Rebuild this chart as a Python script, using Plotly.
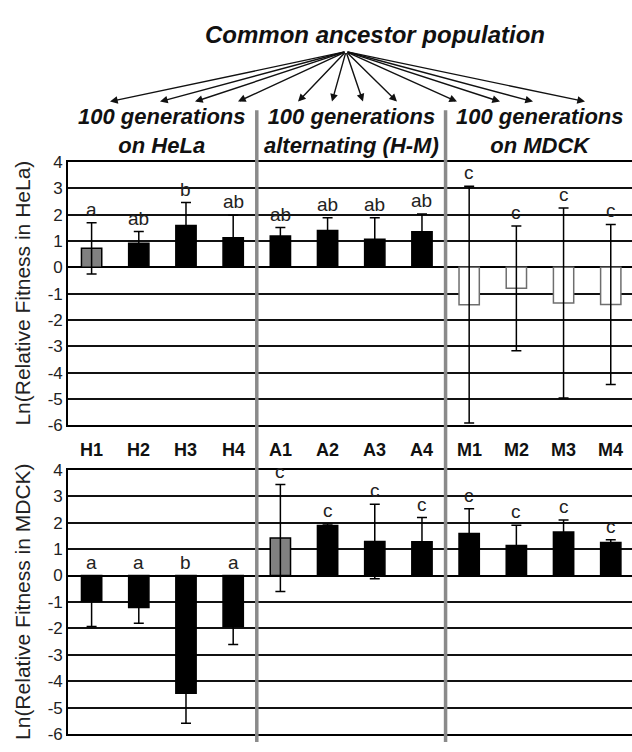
import plotly.graph_objects as go

# ---------------- data ----------------
categories = ["H1", "H2", "H3", "H4", "A1", "A2", "A3", "A4", "M1", "M2", "M3", "M4"]

hela_values = [0.72, 0.91, 1.59, 1.12, 1.19, 1.40, 1.07, 1.35, -1.42, -0.80, -1.36, -1.41]
hela_errors = [0.97, 0.45, 0.87, 0.86, 0.32, 0.48, 0.81, 0.68, 4.50, 2.37, 3.61, 3.04]
hela_letters = ["a", "ab", "b", "ab", "ab", "ab", "ab", "ab", "c", "c", "c", "c"]

mdck_values = [-0.97, -1.21, -4.45, -1.93, 1.42, 1.89, 1.29, 1.28, 1.59, 1.14, 1.65, 1.25]
mdck_errors = [0.96, 0.59, 1.14, 0.68, 2.02, 0.06, 1.41, 0.91, 0.94, 0.76, 0.45, 0.10]
mdck_letters = ["a", "a", "b", "a", "c", "c", "c", "c", "c", "c", "c", "c"]

y_ticks = [4, 3, 2, 1, 0, -1, -2, -3, -4, -5, -6]
y_tick_labels = ["4", "3", "2", "1", "0", "-1", "-2", "-3", "-4", "-5", "-6"]

group_titles = ["100 generations<br>on HeLa",
                "100 generations<br>alternating (H-M)",
                "100 generations<br>on MDCK"]
main_title = "Common ancestor population"
y_title_top = "Ln(Relative Fitness in HeLa)"
y_title_bottom = "Ln(Relative Fitness in MDCK)"

# ---------------- styles ----------------
W, H = 632, 752
L = 68
PW = W - L
FONT = "Liberation Sans, Arial, Helvetica, sans-serif"
GRAY_SEP = "#8a8a8a"

def X(px):
    return (px - L) / PW

def Y(py):
    return 1 - py / H

top_fill = ["#808080"] + ["#000000"] * 7 + ["#ffffff"] * 4
top_line = ["#000000"] * 8 + ["#6e6e6e"] * 4
bot_fill = ["#000000"] * 4 + ["#808080"] + ["#000000"] * 7
bot_line = ["#000000"] * 12

fig = go.Figure()

fig.add_trace(go.Bar(
    x=categories, y=hela_values, xaxis="x", yaxis="y",
    marker=dict(color=top_fill, line=dict(color=top_line, width=1.5)),
    error_y=dict(type="data", array=hela_errors, visible=True,
                 color="#000000", thickness=1.5, width=5),
    showlegend=False, hoverinfo="skip",
))
fig.add_trace(go.Bar(
    x=categories, y=mdck_values, xaxis="x2", yaxis="y2",
    marker=dict(color=bot_fill, line=dict(color=bot_line, width=1.5)),
    error_y=dict(type="data", array=mdck_errors, visible=True,
                 color="#000000", thickness=1.5, width=5),
    showlegend=False, hoverinfo="skip",
))

xaxis_common = dict(
    type="category", categoryorder="array", categoryarray=categories,
    range=[-0.5, 11.45], showticklabels=False, ticks="",
    showgrid=False, showline=True, mirror=True, linecolor="#000000",
    linewidth=1.5, zeroline=False, fixedrange=True,
)
yaxis_common = dict(
    range=[-6, 4], tickmode="array", tickvals=y_ticks, ticktext=y_tick_labels,
    showgrid=True, gridcolor="#111111", gridwidth=1.6,
    zeroline=True, zerolinecolor="#000000", zerolinewidth=1.6,
    showline=True, linecolor="#000000", linewidth=1.6,
    ticks="", tickfont=dict(family=FONT, size=17, color="#222222"),
    fixedrange=True,
)

fig.update_layout(
    width=W, height=H,
    margin=dict(l=L, r=0, t=0, b=0),
    paper_bgcolor="#ffffff", plot_bgcolor="#ffffff",
    bargap=0.57,
    xaxis=dict(**xaxis_common, domain=[0, 1], anchor="y"),
    yaxis=dict(**yaxis_common, domain=[Y(427), Y(157)], anchor="x"),
    xaxis2=dict(**xaxis_common, domain=[0, 1], anchor="y2"),
    yaxis2=dict(**yaxis_common, domain=[Y(744), Y(472.7)], anchor="x2"),
    font=dict(family=FONT, color="#111111"),
)

ann = []

# significance letters
for i, c in enumerate(categories):
    ann.append(dict(x=c, y=max(hela_values[i] + hela_errors[i], 0), xref="x", yref="y",
                    text=hela_letters[i], showarrow=False, xanchor="center",
                    yanchor="bottom", yshift=1,
                    font=dict(family=FONT, size=19, color="#222222")))
    ann.append(dict(x=c, y=max(mdck_values[i] + mdck_errors[i], 0), xref="x2", yref="y2",
                    text=mdck_letters[i], showarrow=False, xanchor="center",
                    yanchor="bottom", yshift=1,
                    font=dict(family=FONT, size=19, color="#222222")))
    # category labels between panels
    ann.append(dict(x=c, y=Y(452.7), xref="x", yref="paper", text="<b>" + c + "</b>",
                    showarrow=False, xanchor="center", yanchor="middle",
                    font=dict(family=FONT, size=18, color="#111111")))

# y axis titles
ann.append(dict(x=X(23), y=(Y(427) + Y(157)) / 2, xref="paper", yref="paper",
                text=y_title_top, textangle=-90, showarrow=False,
                xanchor="center", yanchor="middle",
                font=dict(family=FONT, size=21, color="#222222")))
ann.append(dict(x=X(23), y=(Y(744) + Y(472.7)) / 2, xref="paper", yref="paper",
                text=y_title_bottom, textangle=-90, showarrow=False,
                xanchor="center", yanchor="middle",
                font=dict(family=FONT, size=21, color="#222222")))

# header
ann.append(dict(x=X(375), y=Y(26), xref="paper", yref="paper",
                text="<b><i>" + main_title + "</i></b>", showarrow=False,
                xanchor="center", yanchor="middle",
                font=dict(family=FONT, size=24, color="#111111")))
for gi, t in enumerate(group_titles):
    ann.append(dict(x=1.5 + 4 * gi, y=Y(125), xref="x", yref="paper",
                    text="<b><i>" + t + "</i></b>", showarrow=False,
                    xanchor="center", yanchor="middle",
                    font=dict(family=FONT, size=22, color="#111111")))

# arrows from common ancestor
origin = (346, 45)
arrow_ends = [110, 160, 195, 238, 298, 332, 363, 397, 457, 500, 533, 585]
for ex in arrow_ends:
    ann.append(dict(x=X(ex), y=Y(95), xref="paper", yref="paper",
                    ax=origin[0] - ex, ay=origin[1] - 95, axref="pixel", ayref="pixel",
                    text="", showarrow=True, arrowhead=2, arrowsize=1.1,
                    arrowwidth=1.4, arrowcolor="#111111"))

fig.update_layout(annotations=ann)

# group separators
shapes = []
for sx in [3.5, 7.5]:
    shapes.append(dict(type="line", xref="x", yref="paper", x0=sx, x1=sx,
                       y0=0, y1=Y(104), line=dict(color=GRAY_SEP, width=3.5),
                       layer="above"))
fig.update_layout(shapes=shapes)

fig.write_html("out.html",
               config={"displayModeBar": False},
               post_script="document.body.style.margin='0';document.body.style.overflow='hidden';")
